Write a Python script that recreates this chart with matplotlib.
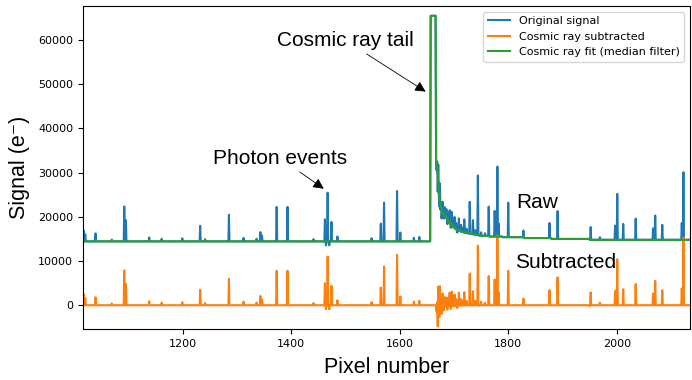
import numpy as np
import matplotlib
matplotlib.use("Agg")
import matplotlib.pyplot as plt
from numpy.lib.stride_tricks import sliding_window_view

# ---------------- data ----------------
pixel_first = 1016
pixel_last = 2135

baseline_pre = 14450.0          # raw level before the cosmic ray
plateau_first, plateau_last = 1657, 1666
plateau_level = 65500.0

# raw level of the decaying tail, one value per pixel starting at 1667
tail_first = 1667
tail_values = [
    32000, 30500, 29000, 27500, 26300, 25000, 23800, 22600, 21600, 21300,   # 1667-1676
    21150, 21000, 20900, 20750, 20600, 20400, 20200, 20000, 19750, 19550,   # 1677-1686
    19350, 19150, 18950, 18800, 18650, 18500, 18350, 18200, 18050, 17920,   # 1687-1696
    17800, 17680, 17570, 17470, 17380, 17300, 17220, 17150, 17080, 17020,   # 1697-1706
    16960, 16900, 16850, 16800, 16750, 16700, 16660, 16620, 16580, 16540,   # 1707-1716
    16500, 16470, 16440, 16410, 16380, 16350, 16330, 16310, 16290, 16270,   # 1717-1726
    16250, 16220, 16200, 16170, 16150, 16120, 16100, 16070, 16050, 16030,   # 1727-1736
    16010, 15990, 15970, 15950, 15930, 15910, 15900, 15880, 15860, 15840,   # 1737-1746
]

# later, nearly flat raw levels
late_starts = [1747, 1765, 1790, 1830, 1880, 1950]
late_ends = [1764, 1789, 1829, 1879, 1949, 2135]
late_levels = [15700, 15550, 15400, 15200, 15000, 14800]

# photon events / deviations above (or below) the raw level
spike_pixels = [
    1017, 1020, 1039, 1069, 1092, 1095, 1138, 1161, 1199, 1232, 1241, 1285,
    1312, 1336, 1343, 1346, 1373, 1393, 1441, 1462, 1464, 1467, 1470, 1474,
    1485, 1548, 1565, 1571, 1595, 1601, 1626, 1636,
    1669, 1670, 1671, 1673, 1674, 1676, 1677, 1679, 1681, 1683, 1686, 1688,
    1689, 1692, 1694, 1696, 1698, 1701, 1704, 1706, 1709, 1713, 1716, 1719,
    1723, 1729, 1735, 1739, 1744, 1750, 1757, 1764,
    1775, 1777, 1780, 1782, 1800, 1828, 1876, 1891, 1952, 1969, 1997, 2001,
    2012, 2035, 2067, 2071, 2084, 2120, 2123,
]
spike_heights = [
    2500, 1600, 1800, 400, 7900, 4800, 900, 600, 700, 3500, 500, 6000,
    800, 600, 2100, 1300, 7800, 7800, 500, 5000, -900, 11000, -900, 4400,
    1100, 700, 4000, 8800, 11400, 2000, 800, 1000,
    3500, -1800, 5500, -1500, 5000, 2000, -1500, 2500, -1000, 2000, 2200, -800,
    2000, 3000, -700, 3200, 1500, 2600, 1500, -600, 2800, 1500, 1000, 3000,
    1000, 7200, 3200, 1000, 13500, 800, 600, 6600,
    5800, 3500, 15800, 3000, 7800, 1500, 3400, 6300, 2900, 600, 3200, 10400,
    3600, 4800, 2600, 5500, 3400, 3800, 15300,
]

median_window = 7

x_ticks = [1200, 1400, 1600, 1800, 2000]
y_ticks = [0, 10000, 20000, 30000, 40000, 50000, 60000]

# ---------------- build the signals ----------------
pix = np.arange(pixel_first, pixel_last + 1)
raw = np.full(pix.shape, baseline_pre, dtype=float)
raw[(pix >= plateau_first) & (pix <= plateau_last)] = plateau_level
t0 = tail_first - pixel_first
raw[t0:t0 + len(tail_values)] = tail_values
for s, e, lev in zip(late_starts, late_ends, late_levels):
    raw[(pix >= s) & (pix <= e)] = lev
for p, h in zip(spike_pixels, spike_heights):
    raw[pix == p] += h

half = median_window // 2
padded = np.pad(raw, half, mode="edge")
fit = np.median(sliding_window_view(padded, median_window), axis=1)
subtracted = raw - fit

# ---------------- plot ----------------
fig = plt.figure(figsize=(6.92, 3.80), dpi=100)
ax = fig.add_axes([0.12, 0.134, 0.877, 0.850])

ax.plot(pix, raw, color="#1f77b4", lw=1.5, label="Original signal")
ax.plot(pix, subtracted, color="#ff7f0e", lw=1.5, label="Cosmic ray subtracted")
ax.plot(pix, fit, color="#2ca02c", lw=1.5, label="Cosmic ray fit (median filter)")

ax.set_xlim(pixel_first, pixel_last)
ax.set_ylim(-5400, 67700)
ax.set_xticks(x_ticks)
ax.set_yticks(y_ticks)
ax.tick_params(labelsize=8)

sans = ["Liberation Sans", "DejaVu Sans"]
ax.set_xlabel("Pixel number", fontsize=15.5, family=sans, labelpad=6)
ax.set_ylabel("Signal (e\u207b)", fontsize=15.5, family=sans, labelpad=6)

ax.legend(loc="upper right", fontsize=8)

arrow = dict(arrowstyle="-|>", color="black", lw=0.6, mutation_scale=16)
ax.annotate("Cosmic ray tail", xy=(1652, 48000), xytext=(1499, 60000),
            ha="center", va="center", fontsize=15, family=sans, arrowprops=arrow)
ax.annotate("Photon events", xy=(1464, 26000), xytext=(1379, 33300),
            ha="center", va="center", fontsize=15, family=sans, arrowprops=arrow)
ax.text(1853, 23300, "Raw", ha="center", va="center", fontsize=15, family=sans)
ax.text(1906, 9560, "Subtracted", ha="center", va="center", fontsize=15, family=sans)

fig.savefig("out.png", dpi=100)
